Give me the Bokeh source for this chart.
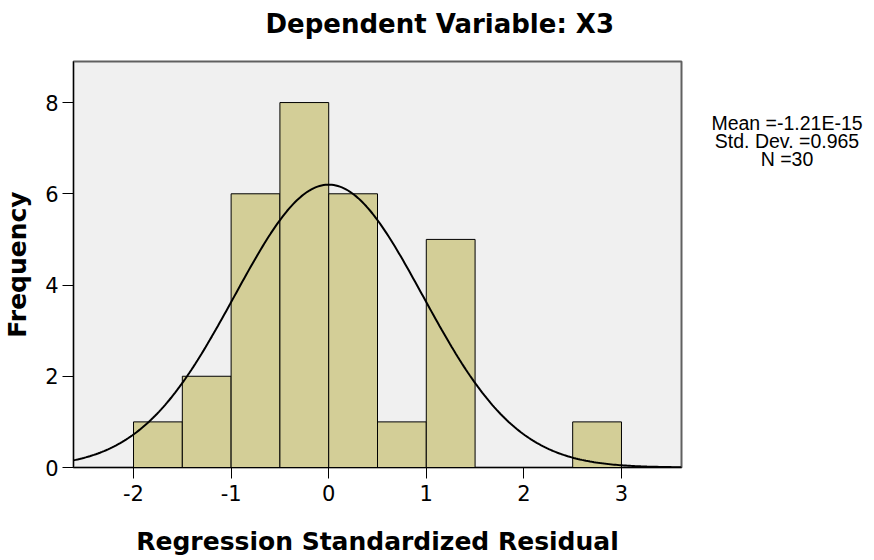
import numpy as np
from bokeh.plotting import figure
from bokeh.layouts import row
from bokeh.models import Range1d, FixedTicker, Title
from bokeh.core.properties import value
from bokeh.embed import file_html
from bokeh.resources import INLINE

# ---- data ----
bin_left = [-2.0, -1.5, -1.0, -0.5, 0.0, 0.5, 1.0, 1.5, 2.0, 2.5]
bin_width = 0.5
counts = [1, 2, 6, 8, 6, 1, 5, 0, 0, 1]
mean = -1.21e-15
std_dev = 0.965
n_obs = 30
x_ticks = [-2, -1, 0, 1, 2, 3]
x_tick_labels = ["-2", "-1", "0", "1", "2", "3"]
y_ticks = [0, 2, 4, 6, 8]
title_text = "Dependent Variable: X3"
x_label = "Regression Standardized Residual"
y_label = "Frequency"
stats_lines = ["Mean =-1.21E-15", "Std. Dev. =0.965", "N =30"]

BOLD = "DejaVu Sans"
REG = "DejaVu Sans"
TOP, FRAME_H, BOTTOM = 61, 406, 93
FIG_H = TOP + FRAME_H + BOTTOM

p = figure(frame_width=608, frame_height=FRAME_H,
           min_border_left=65, min_border_right=15,
           min_border_top=TOP, min_border_bottom=BOTTOM,
           output_backend="svg", toolbar_location=None,
           x_range=Range1d(-2.615, 3.615), y_range=Range1d(0, 8.9))
p.title_location = None

p.background_fill_color = "#F0F0F0"
p.border_fill_color = "white"
p.outline_line_color = "#606060"
p.outline_line_width = 2
p.grid.visible = False

# bars
lefts = [l for l, c in zip(bin_left, counts) if c > 0]
rights = [l + bin_width for l, c in zip(bin_left, counts) if c > 0]
tops = [c for c in counts if c > 0]
p.quad(left=lefts, right=rights, bottom=0, top=tops,
       fill_color="#D3CE97", line_color="black", line_width=1)

# fitted normal curve from the stated statistics
xs = np.linspace(-2.615, 3.615, 300)
ys = n_obs * bin_width / (std_dev * np.sqrt(2 * np.pi)) * np.exp(-0.5 * ((xs - mean) / std_dev) ** 2)
p.line(xs, ys, line_color="black", line_width=2)

# axes
for ax, ticks in ((p.xaxis, x_ticks), (p.yaxis, y_ticks)):
    ax.ticker = FixedTicker(ticks=ticks)
    ax.minor_tick_line_color = None
    ax.major_tick_in = 0
    ax.major_tick_out = 11
    ax.major_tick_line_color = "black"
    ax.axis_line_color = "black"
    ax.major_label_text_font = REG
    ax.major_label_text_font_size = "21px"
    ax.major_label_text_color = "black"
    ax.axis_label_text_font = BOLD
    ax.axis_label_text_font_style = "bold"
    ax.axis_label_text_font_size = "25px"
    ax.axis_label_text_color = "black"

p.xaxis.major_label_overrides = {t: s for t, s in zip(x_ticks, x_tick_labels)}
p.xaxis.axis_label = x_label
p.yaxis.axis_label = y_label
p.xaxis.major_label_standoff = 6
p.yaxis.major_label_standoff = 4
p.xaxis.axis_label_standoff = 23
p.yaxis.axis_label_standoff = 10

# blank spacer (closest to the frame) then the real title above it
p.add_layout(Title(text=" ", text_font_size="16px", standoff=2), "above")
p.add_layout(Title(text=title_text, align="left", offset=192,
                   text_font=BOLD, text_font_style="bold",
                   text_font_size="26px", text_color="black", standoff=4),
             "above")

# side panel with the summary statistics; its frame is aligned with the
# main frame, so its ranges are expressed in page pixels
SIDE_W = 170
FRAME_TOP_PX = TOP
side = figure(width=SIDE_W, height=FIG_H,
              min_border_left=0, min_border_right=0,
              min_border_top=TOP, min_border_bottom=BOTTOM,
              output_backend="svg", toolbar_location=None,
              x_range=Range1d(0, SIDE_W),
              y_range=Range1d(FRAME_TOP_PX + FRAME_H, FRAME_TOP_PX))
side.axis.visible = False
side.grid.visible = False
side.outline_line_color = None
side.background_fill_color = "white"
side.border_fill_color = "white"
stats_x = [90.5] * len(stats_lines)
stats_y = [122 + 18 * i for i in range(len(stats_lines))]
side.text(x=stats_x, y=stats_y, text=stats_lines,
          text_align="center", text_baseline="alphabetic",
          text_font=value("Liberation Sans"), text_font_size=value("19.5px"),
          text_color="black")

layout = row(p, side)
open("out.html", "w").write(file_html(layout, INLINE))
